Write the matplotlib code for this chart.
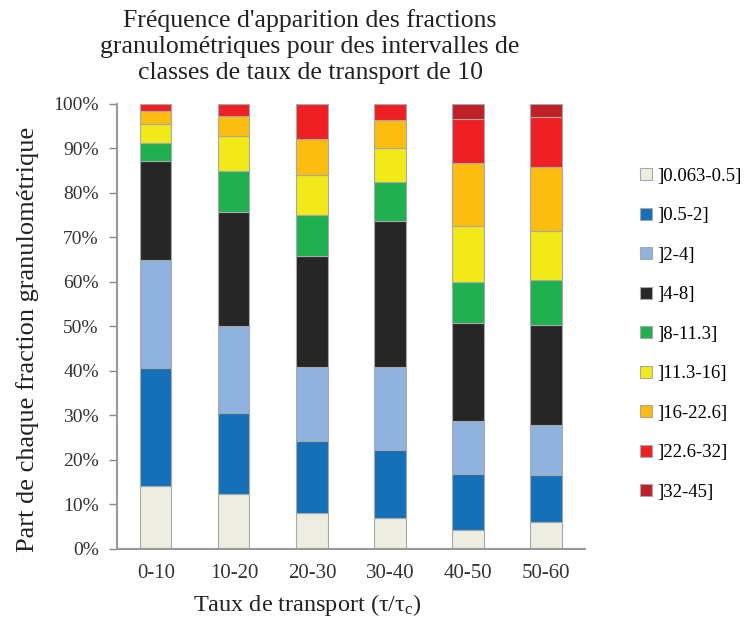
import numpy as np
import matplotlib
matplotlib.use("Agg")
import matplotlib.pyplot as plt
from matplotlib.patches import Patch

plt.rcParams['font.family'] = ['Liberation Serif', 'DejaVu Serif']

# === données ===
classes = ["0-10", "10-20", "20-30", "30-40", "40-50", "50-60"]
fractions = ["]0.063-0.5]", "]0.5-2]", "]2-4]", "]4-8]", "]8-11.3]",
             "]11.3-16]", "]16-22.6]", "]22.6-32]", "]32-45]"]

# part (%) de chaque fraction, une liste par fraction, dans l'ordre des classes
f_0063_05 = [14.2, 12.4, 8.0, 7.0, 4.2, 6.0]
f_05_2    = [26.5, 18.2, 16.2, 15.2, 12.6, 10.7]
f_2_4     = [24.2, 19.6, 16.6, 18.8, 12.0, 11.1]
f_4_8     = [22.2, 25.5, 25.0, 32.6, 21.9, 22.6]
f_8_113   = [4.1, 9.2, 9.3, 8.8, 9.2, 10.0]
f_113_16  = [4.3, 7.9, 8.9, 7.6, 12.6, 11.0]
f_16_226  = [2.9, 4.4, 8.1, 6.5, 14.2, 14.4]
f_226_32  = [1.6, 2.8, 7.9, 3.5, 9.9, 11.3]
f_32_45   = [0.0, 0.0, 0.0, 0.0, 3.4, 2.9]

series = [f_0063_05, f_05_2, f_2_4, f_4_8, f_8_113, f_113_16, f_16_226, f_226_32, f_32_45]
colors = ["#EDEDE2", "#1570B8", "#8FB3DE", "#262626", "#20B050",
          "#F2E919", "#FCBD10", "#EE2024", "#C0202A"]

fig = plt.figure(figsize=(7.49, 6.22), dpi=100)
ax = fig.add_axes([0.156, 0.1174, 0.625, 0.7154])

x = np.arange(len(classes))
bottom = np.zeros(len(classes))
for vals, c in zip(series, colors):
    vals = np.array(vals, dtype=float)
    ax.bar(x, vals, 0.40, bottom=bottom, color=c, edgecolor="#a8a8a8", linewidth=0.8)
    bottom += vals

ax.set_xlim(-0.5, len(classes) - 0.5)
ax.set_ylim(0, 100)
ax.set_yticks(np.arange(0, 101, 10))
ax.set_yticklabels([f"{v}%" for v in range(0, 101, 10)], fontsize=14, color="#333333")
ax.set_xticks(x)
ax.set_xticklabels(classes, fontsize=15, color="#333333")
ax.tick_params(axis="x", length=0, pad=11)
ax.tick_params(axis="y", length=6, color="#888888", width=1, pad=7)

for s in ["top", "right"]:
    ax.spines[s].set_visible(False)
for s in ["left", "bottom"]:
    ax.spines[s].set_color("#999999")
    ax.spines[s].set_linewidth(1.5)

fig.text(0.414, 0.985,
         "Fréquence d'apparition des fractions\ngranulométriques pour des intervalles de\nclasses de taux de transport de 10",
         ha="center", va="top", fontsize=18.5, linespacing=1.22, color="#222222")
fig.text(0.41, 0.006, r"Taux de transport ($\mathregular{\tau/\tau_c}$)", ha="center", va="bottom",
         fontsize=17.5, color="#222222")
fig.text(0.037, 0.455, "Part de chaque fraction granulométrique", rotation=90,
         ha="center", va="center", fontsize=19, color="#222222")

handles = [Patch(facecolor=c, edgecolor="#a8a8a8", linewidth=0.8) for c in colors]
fig.legend(handles, fractions, loc="upper left", bbox_to_anchor=(0.845, 0.742),
           frameon=False, fontsize=13.5, handlelength=0.6, handleheight=0.6,
           handletextpad=0.3, labelspacing=1.2, borderaxespad=0)

fig.savefig("out.png", dpi=100)
